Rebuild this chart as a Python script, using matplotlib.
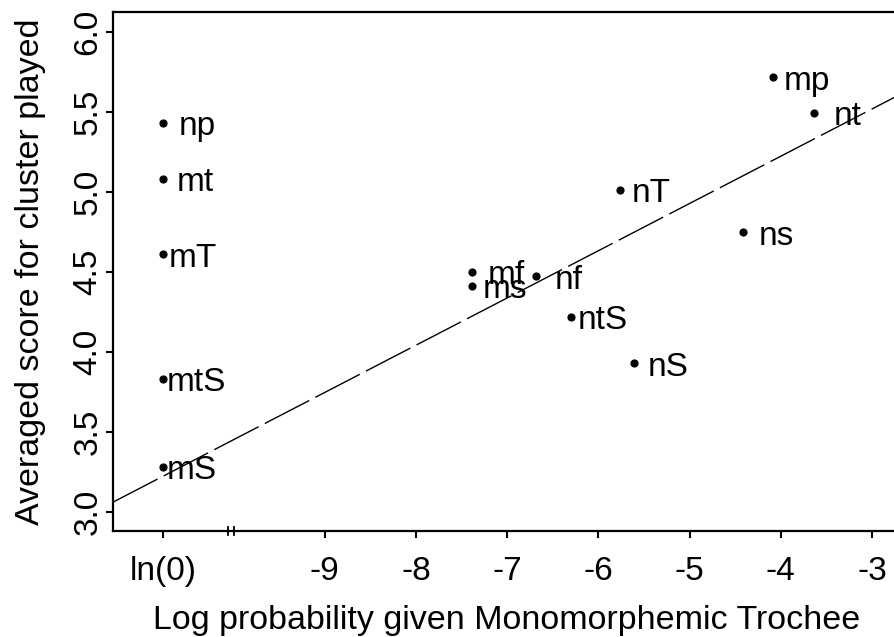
import numpy as np
import matplotlib.pyplot as plt
from matplotlib.transforms import blended_transform_factory

plt.rcParams['font.family'] = ['Liberation Sans', 'DejaVu Sans']

# ln(0) has no real value, it is drawn left of the axis break
ln0_pos = -10.77
break_at = -10.03

clusters = ["np", "mt", "mT", "mtS", "mS",
            "mp", "nt", "nT", "ns", "mf", "ms", "nf", "ntS", "nS"]
log_prob = [ln0_pos, ln0_pos, ln0_pos, ln0_pos, ln0_pos,
            -4.08, -3.63, -5.76, -4.41, -7.38, -7.38, -6.68, -6.30, -5.61]
scores = [5.43, 5.08, 4.61, 3.83, 3.28,
          5.715, 5.494, 5.011, 4.746, 4.50, 4.411, 4.473, 4.217, 3.928]

x_ticks = [ln0_pos, -9, -8, -7, -6, -5, -4, -3]
x_ticklabels = ["ln(0)", "-9", "-8", "-7", "-6", "-5", "-4", "-3"]
y_ticks = [3.0, 3.5, 4.0, 4.5, 5.0, 5.5, 6.0]

# label nudges in pixels (label text sits a bit right of / below each dot)
label_dx = [15, 13, 5, 3, 3, 10, 19, 12, 15, 15, 10, 18, 7, 14]
label_dy = -4

fs = 24

fig = plt.figure(figsize=(8.95, 6.37), dpi=100)
ax = fig.add_axes([0.1264, 0.1666, 0.8804, 0.8138])

ax.scatter(log_prob, scores, s=24, color="black", zorder=3)

px2pt = 72.0 / 100
for name, xv, yv, dx in zip(clusters, log_prob, scores, label_dx):
    ax.annotate(name, (xv, yv), xytext=(dx * px2pt, label_dy * px2pt),
                textcoords="offset points", ha="left", va="center",
                fontsize=fs, color="black")

# fitted line through the clusters that have a real log probability
xs = np.array(log_prob)
ys = np.array(scores)
keep = xs > break_at
slope, intercept = np.polyfit(xs[keep], ys[keep], 1)
ax.axline((0, intercept), slope=slope, color="black", lw=1.0,
          linestyle=(0, (36, 5)))

ax.set_xlim(-11.32, -2.68)
ax.set_ylim(2.88, 6.12)
ax.set_xticks(x_ticks)
ax.set_xticklabels(x_ticklabels)
ax.set_yticks(y_ticks)
ax.set_yticklabels(["%.1f" % v for v in y_ticks], rotation=90, va="center")

ax.tick_params(direction="out", length=5, width=1.5, labelsize=fs, colors="black")
ax.tick_params(axis="x", pad=13)
ax.tick_params(axis="y", pad=2)
for sp in ax.spines.values():
    sp.set_linewidth(1.6)

# axis break marks
tr = blended_transform_factory(ax.transData, ax.transAxes)
for b in (break_at - 0.03, break_at + 0.03):
    ax.plot([b, b], [-0.008, 0.008], transform=tr, color="black", lw=1.3,
            clip_on=False)

ax.set_xlabel("Log probability given Monomorphemic Trochee", fontsize=24.5, labelpad=13)
ax.set_ylabel("Averaged score for cluster played", fontsize=24.5, labelpad=19)

fig.savefig("out.png", dpi=100)
